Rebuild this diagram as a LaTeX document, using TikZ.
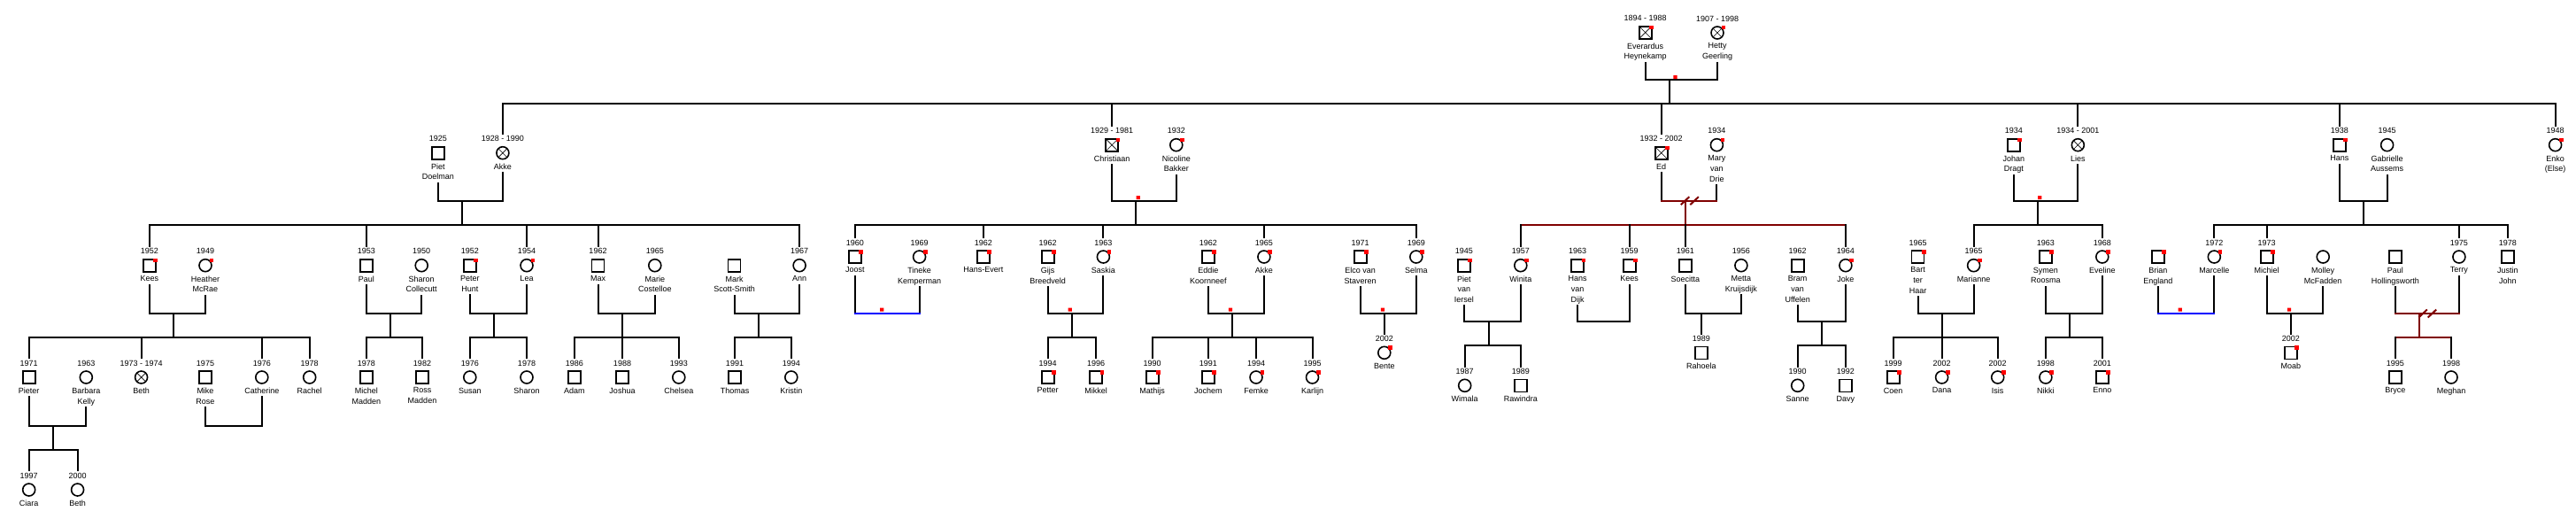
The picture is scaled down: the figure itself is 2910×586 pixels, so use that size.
\documentclass[tikz,border=0pt]{standalone}
\usepackage{fontspec}
\setmainfont{Liberation Sans}
\usetikzlibrary{positioning,calc}
\definecolor{divred}{RGB}{128,0,0}
\definecolor{wedblue}{RGB}{0,0,255}
\definecolor{markred}{RGB}{255,0,0}
\tikzset{sym/.style={draw, line width=1.6pt, minimum size=14pt, inner sep=0pt, outer sep=0pt}, male/.style={sym, rectangle}, female/.style={sym, circle}, dead/.style={path picture={\draw[line width=0.6pt] (path picture bounding box.north west)--(path picture bounding box.south east) (path picture bounding box.north east)--(path picture bounding box.south west);}}, yr/.style={inner sep=0pt, outer xsep=0pt, outer ysep=2.5pt}, nm/.style={align=center, inner sep=0pt, outer xsep=0pt, outer ysep=2pt, text depth=2pt}, rel/.style={line width=2pt, line cap=rect}, drel/.style={rel, draw=divred}, brel/.style={rel, draw=wedblue}, flag/.style={fill=markred}}
\newcommand{\pers}[5]{\node[#2] (#1) at (#3) {};
  \if\relax\detokenize{#4}\relax\else\node[yr,above=3.3pt of #1] (#1-y) {#4};\fi
  \node[nm,below=2.8pt of #1] (#1-n) {#5};}

\begin{document}
\begin{tikzpicture}[x=1pt,y=-1pt,font=\fontsize{9}{11.7}\selectfont]
\path[fill=white,use as bounding box] (0,0) rectangle (2910,586);
\pers{everardus}{male,dead,line width=2.2pt}{1858.7,36.7}{1894 - 1988}{Everardus\\Heynekamp}
\pers{hetty}{female,dead}{1940,37}{1907 - 1998}{Hetty\\Geerling}
\pers{pietd}{male}{494.8,172.7}{1925}{Piet\\Doelman}
\pers{akke}{female,dead}{567.9,172.7}{1928 - 1990}{Akke}
\pers{christiaan}{male,dead}{1256.1,163.7}{1929 - 1981}{Christiaan}
\pers{nicoline}{female}{1328.8,163.7}{1932}{Nicoline\\Bakker}
\pers{ed}{male,dead}{1876.7,172.7}{1932 - 2002}{Ed}
\pers{mary}{female}{1939.4,163.7}{1934}{Mary\\van\\Drie}
\pers{johan}{male}{2274.9,163.7}{1934}{Johan\\Dragt}
\pers{lies}{female,dead}{2347.3,163.7}{1934 - 2001}{Lies}
\pers{hans}{male}{2642.8,163.7}{1938}{Hans}
\pers{gabrielle}{female}{2696.6,163.7}{1945}{Gabrielle\\Aussems}
\pers{enko}{female}{2886.6,163.7}{1948}{Enko\\(Else)}
\pers{kees}{male}{168.9,299.7}{1952}{Kees}
\pers{heather}{female}{232.0,299.7}{1949}{Heather\\McRae}
\pers{paul}{male}{413.9,299.7}{1953}{Paul}
\pers{sharon}{female}{476.2,299.7}{1950}{Sharon\\Collecutt}
\pers{peterh}{male}{530.8,299.7}{1952}{Peter\\Hunt}
\pers{lea}{female}{595.0,299.7}{1954}{Lea}
\pers{max}{male}{675.5,299.7}{1962}{Max}
\pers{marie}{female}{739.8,299.7}{1965}{Marie\\Costelloe}
\pers{mark}{male}{829.6,299.7}{}{Mark\\Scott-Smith}
\pers{ann}{female}{903.1,299.7}{1967}{Ann}
\pers{joost}{male}{965.8,290}{1960}{Joost}
\pers{tineke}{female}{1038.6,290}{1969}{Tineke\\Kemperman}
\pers{hansev}{male}{1110.9,290}{1962}{Hans-Evert}
\pers{gijs}{male}{1183.7,290}{1962}{Gijs\\Breedveld}
\pers{saskia}{female}{1246.4,290}{1963}{Saskia}
\pers{eddie}{male}{1364.8,290}{1962}{Eddie\\Koornneef}
\pers{akke2}{female}{1427.9,290}{1965}{Akke}
\pers{elco}{male}{1536.7,290}{1971}{Elco van\\Staveren}
\pers{selma}{female}{1599.8,290}{1969}{Selma}
\pers{pietv}{male}{1653.9,299.7}{1945}{Piet\\van\\Iersel}
\pers{winita}{female}{1717.8,299.7}{1957}{Winita}
\pers{hansd}{male}{1782.0,299.7}{1963}{Hans\\van\\Dijk}
\pers{kees2}{male}{1840.7,299.7}{1959}{Kees}
\pers{soecitta}{male}{1903.8,299.7}{1961}{Soecitta}
\pers{metta}{female}{1966.9,299.7}{1956}{Metta\\Kruijsdijk}
\pers{bram}{male}{2030.7,299.7}{1962}{Bram\\van\\Uffelen}
\pers{joke}{female}{2084.9,299.7}{1964}{Joke}
\pers{bart}{male}{2166.5,290}{1965}{Bart\\ter\\Haar}
\pers{marianne}{female}{2229.6,299.7}{1965}{Marianne}
\pers{symen}{male}{2310.9,290}{1963}{Symen\\Roosma}
\pers{eveline}{female}{2374.8,290}{1968}{Eveline}
\pers{brian}{male}{2437.9,290}{}{Brian\\England}
\pers{marcelle}{female}{2501.3,290}{1972}{Marcelle}
\pers{michiel}{male}{2560.7,290}{1973}{Michiel}
\pers{molley}{female}{2624.2,290}{}{Molley\\McFadden}
\pers{paulh}{male}{2705.9,290}{}{Paul\\Hollingsworth}
\pers{terry}{female}{2777.9,290}{1975}{Terry}
\pers{justin}{male}{2832.8,290}{1978}{Justin\\John}
\pers{pieter}{male}{32.7,426}{1971}{Pieter}
\pers{barbara}{female}{97.3,426}{1963}{Barbara\\Kelly}
\pers{beth}{female,dead}{159.6,426}{1973 - 1974}{Beth}
\pers{mike}{male}{232.0,426}{1975}{Mike\\Rose}
\pers{catherine}{female}{295.8,426}{1976}{Catherine}
\pers{rachel}{female}{349.7,426}{1978}{Rachel}
\pers{michel}{male}{413.9,426}{1978}{Michel\\Madden}
\pers{ross}{male}{477.0,426}{1982}{Ross\\Madden}
\pers{susan}{female}{530.8,426}{1976}{Susan}
\pers{sharon2}{female}{595.0,426}{1978}{Sharon}
\pers{adam}{male}{648.8,426}{1986}{Adam}
\pers{joshua}{male}{703.0,426}{1988}{Joshua}
\pers{chelsea}{female}{766.8,426}{1993}{Chelsea}
\pers{thomas}{male}{830.0,426}{1991}{Thomas}
\pers{kristin}{female}{893.8,426}{1994}{Kristin}
\pers{petter}{male}{1183.7,426}{1994}{Petter}
\pers{mikkel}{male}{1238.2,426}{1996}{Mikkel}
\pers{mathijs}{male}{1301.7,426}{1990}{Mathijs}
\pers{jochem}{male}{1364.8,426}{1991}{Jochem}
\pers{femke}{female}{1419.0,426}{1994}{Femke}
\pers{karlijn}{female}{1482.5,426}{1995}{Karlijn}
\pers{bente}{female}{1563.8,398.3}{2002}{Bente}
\pers{wimala}{female}{1654.7,435.3}{1987}{Wimala}
\pers{rawindra}{male}{1717.8,435.3}{1989}{Rawindra}
\pers{rahoela}{male}{1921.9,398.3}{1989}{Rahoela}
\pers{sanne}{female}{2030.7,435.3}{1990}{Sanne}
\pers{davy}{male}{2084.9,435.3}{1992}{Davy}
\pers{coen}{male}{2138.7,426}{1999}{Coen}
\pers{dana}{female}{2193.6,426}{2002}{Dana}
\pers{isis}{female}{2256.7,426}{2002}{Isis}
\pers{nikki}{female}{2310.9,426}{1998}{Nikki}
\pers{enno}{male}{2374.8,426}{2001}{Enno}
\pers{moab}{male}{2587.8,398.3}{2002}{Moab}
\pers{bryce}{male}{2705.9,426}{1995}{Bryce}
\pers{meghan}{female}{2769.0,426}{1998}{Meghan}
\pers{ciara}{female}{32.7,553}{1997}{Ciara}
\pers{beth2}{female}{87.6,553}{2000}{Beth}
\foreach \p in {everardus,hetty,christiaan,nicoline,ed,mary,johan,hans,enko,kees,heather,peterh,lea,joost,tineke,hansev,gijs,saskia,eddie,akke2,elco,selma,pietv,winita,hansd,kees2,joke,bart,marianne,symen,eveline,brian,marcelle,michiel,petter,mikkel,mathijs,jochem,femke,karlijn,bente,coen,dana,isis,nikki,enno,moab}
  \fill[flag] ($(\p.north -| \p.east)+(-2.5pt,1pt)$) rectangle +(4.5pt,-4.5pt);
\coordinate (m0) at (1886,90); \coordinate (s0) at (1886,117);
\draw[rel] (everardus-n) |- (m0) -| (hetty-n); \draw[rel] (m0)--(s0);
\draw[rel] (akke-y) |- (s0) -| (enko-y);
\foreach \c in {christiaan,ed,lies,hans} \draw[rel] (\c-y)--(\c-y |- s0);
\coordinate (m1) at (522.3,226.7); \coordinate (s1) at (522.3,254);
\draw[rel] (pietd-n) |- (m1) -| (akke-n); \draw[rel] (m1)--(s1);
\draw[rel] (kees-y) |- (s1) -| (ann-y);
\foreach \c in {paul,lea,max} \draw[rel] (\c-y)--(\c-y |- s1);
\coordinate (m2) at (1282.8,226.7); \coordinate (s2) at (1282.8,254);
\draw[rel] (christiaan-n) |- (m2) -| (nicoline-n); \draw[rel] (m2)--(s2);
\draw[rel] (joost-y) |- (s2) -| (selma-y);
\foreach \c in {hansev,saskia,akke2} \draw[rel] (\c-y)--(\c-y |- s2);
\coordinate (m3) at (1903.8,226.7); \coordinate (s3) at (1903.8,254);
\draw[rel] (ed-n)--(ed-n |- m3); \draw[rel] (mary-n)--(mary-n |- m3);
\draw[drel] (ed-n |- m3)--(mary-n |- m3); \draw[drel] (m3)--(s3);
\draw[drel] (winita-y |- s3)--(joke-y |- s3);
\foreach \c in {winita,kees2,soecitta,joke} \draw[rel] (\c-y)--(\c-y |- s3);
\draw[drel,line cap=butt] (1898.8,231.2)--(1908.3,222.2) (1909.3,231.2)--(1918.8,222.2);
\coordinate (m4) at (2301.7,226.7); \coordinate (s4) at (2301.7,254);
\draw[rel] (johan-n) |- (m4) -| (lies-n); \draw[rel] (m4)--(s4);
\draw[rel] (marianne-y) |- (s4) -| (eveline-y);
\coordinate (m5) at (2669.5,226.7); \coordinate (s5) at (2669.5,254);
\draw[rel] (hans-n) |- (m5) -| (gabrielle-n); \draw[rel] (m5)--(s5);
\draw[rel] (marcelle-y) |- (s5) -| (justin-y);
\foreach \c in {michiel,terry} \draw[rel] (\c-y)--(\c-y |- s5);
\coordinate (m6) at (195.6,354); \coordinate (s6) at (195.6,381);
\draw[rel] (kees-n) |- (m6) -| (heather-n); \draw[rel] (m6)--(s6);
\draw[rel] (pieter-y) |- (s6) -| (rachel-y);
\foreach \c in {beth,catherine} \draw[rel] (\c-y)--(\c-y |- s6);
\coordinate (m7) at (441,354); \coordinate (s7) at (441,381);
\draw[rel] (paul-n) |- (m7) -| (sharon-n); \draw[rel] (m7)--(s7);
\draw[rel] (michel-y) |- (s7) -| (ross-y);
\coordinate (m8) at (557.9,354); \coordinate (s8) at (557.9,381);
\draw[rel] (peterh-n) |- (m8) -| (lea-n); \draw[rel] (m8)--(s8);
\draw[rel] (susan-y) |- (s8) -| (sharon2-y);
\coordinate (m9) at (703,354); \coordinate (s9) at (703,381);
\draw[rel] (max-n) |- (m9) -| (marie-n); \draw[rel] (m9)--(s9);
\draw[rel] (adam-y) |- (s9) -| (chelsea-y); \draw[rel] (joshua-y)--(joshua-y |- s9);
\coordinate (m10) at (856.7,354); \coordinate (s10) at (856.7,381);
\draw[rel] (mark-n) |- (m10) -| (ann-n); \draw[rel] (m10)--(s10);
\draw[rel] (thomas-y) |- (s10) -| (kristin-y);
\coordinate (m11) at (1002,354);
\draw[rel] (joost-n)--(joost-n |- m11); \draw[rel] (tineke-n)--(tineke-n |- m11);
\draw[brel] (joost-n |- m11)--(tineke-n |- m11);
\coordinate (m12) at (1210.8,354); \coordinate (s12) at (1210.8,381);
\draw[rel] (gijs-n) |- (m12) -| (saskia-n); \draw[rel] (m12)--(s12);
\draw[rel] (petter-y) |- (s12) -| (mikkel-y);
\coordinate (m13) at (1391.9,354); \coordinate (s13) at (1391.9,381);
\draw[rel] (eddie-n) |- (m13) -| (akke2-n); \draw[rel] (m13)--(s13);
\draw[rel] (mathijs-y) |- (s13) -| (karlijn-y);
\foreach \c in {jochem,femke} \draw[rel] (\c-y)--(\c-y |- s13);
\coordinate (m14) at (1563.8,354);
\draw[rel] (elco-n) |- (m14) -| (selma-n); \draw[rel] (m14)--(bente-y);
\coordinate (m15) at (1681.8,363); \coordinate (s15) at (1681.8,390);
\draw[rel] (pietv-n) |- (m15) -| (winita-n); \draw[rel] (m15)--(s15);
\draw[rel] (wimala-y) |- (s15) -| (rawindra-y);
\coordinate (m16) at (1811,363);
\draw[rel] (hansd-n) |- (m16) -| (kees2-n);
\coordinate (m17) at (1921.9,354);
\draw[rel] (soecitta-n) |- (m17) -| (metta-n); \draw[rel] (m17)--(rahoela-y);
\coordinate (m18) at (2057.8,363); \coordinate (s18) at (2057.8,390);
\draw[rel] (bram-n) |- (m18) -| (joke-n); \draw[rel] (m18)--(s18);
\draw[rel] (sanne-y) |- (s18) -| (davy-y);
\coordinate (m19) at (2194,354); \coordinate (s19) at (2194,381);
\draw[rel] (bart-n) |- (m19) -| (marianne-n); \draw[rel] (m19)--(s19);
\draw[rel] (coen-y) |- (s19) -| (isis-y); \draw[rel] (dana-y)--(dana-y |- s19);
\coordinate (m20) at (2338.4,354); \coordinate (s20) at (2338.4,381);
\draw[rel] (symen-n) |- (m20) -| (eveline-n); \draw[rel] (m20)--(s20);
\draw[rel] (nikki-y) |- (s20) -| (enno-y);
\coordinate (m21) at (2469,354);
\draw[rel] (brian-n)--(brian-n |- m21); \draw[rel] (marcelle-n)--(marcelle-n |- m21);
\draw[brel] (brian-n |- m21)--(marcelle-n |- m21);
\coordinate (m22) at (2587.8,354);
\draw[rel] (michiel-n) |- (m22) -| (molley-n); \draw[rel] (m22)--(moab-y);
\coordinate (m23) at (2732.6,354); \coordinate (s23) at (2732.6,381);
\draw[rel] (paulh-n)--(paulh-n |- m23); \draw[rel] (terry-n)--(terry-n |- m23);
\draw[drel] (paulh-n |- m23)--(terry-n |- m23); \draw[drel] (m23)--(s23);
\draw[drel] (bryce-y |- s23)--(meghan-y |- s23);
\foreach \c in {bryce,meghan} \draw[rel] (\c-y)--(\c-y |- s23);
\draw[drel,line cap=butt] (2732.3,358.5)--(2741.8,349.5) (2742.7,358.5)--(2752.2,349.5);
\coordinate (m24) at (60.1,481); \coordinate (s24) at (60.1,508.3);
\draw[rel] (pieter-n) |- (m24) -| (barbara-n); \draw[rel] (m24)--(s24);
\draw[rel] (ciara-y) |- (s24) -| (beth2-y);
\coordinate (m25) at (264,481);
\draw[rel] (mike-n) |- (m25) -| (catherine-n);
\fill[flag] (1890.3,85) rectangle (1894.7,89) (1283.5,221) rectangle (1287.8,225) (2302,221) rectangle (2306.4,225) (994,347.5) rectangle (998.3,351.5) (1206.5,347.5) rectangle (1210.8,351.5) (1387.8,347.5) rectangle (1392.1,351.5) (1559.8,347.5) rectangle (1564.1,351.5) (2460.6,347.5) rectangle (2464.9,351.5) (2583.8,347.5) rectangle (2588.1,351.5);
\end{tikzpicture}
\end{document}
